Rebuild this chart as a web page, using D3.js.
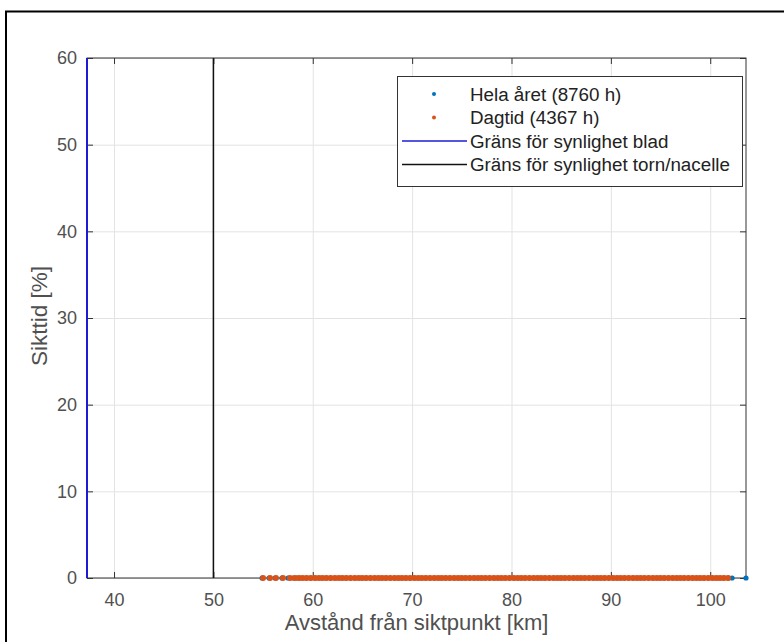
<!DOCTYPE html>
<html>
<head>
<meta charset="utf-8">
<script src="https://cdn.jsdelivr.net/npm/d3@7/dist/d3.min.js"></script>
<style>
  html, body { margin: 0; padding: 0; background: #fff; }
  svg { display: block; font-family: "Liberation Sans", Arial, Helvetica, sans-serif; }
</style>
</head>
<body>
<svg id="chart" width="784" height="642"></svg>
<script>
// ---- data ----
const xTicks = [40, 50, 60, 70, 80, 90, 100];
const yTicks = [0, 10, 20, 30, 40, 50, 60];
const xDomain = [37.28, 103.6];
const yDomain = [0, 60];
const bladLimit = 37.28;      // Gräns för synlighet blad [km]
const tornLimit = 50;         // Gräns för synlighet torn/nacelle [km]

// Hela året (8760 h): [avstånd km, sikttid %]
const helaAret = [
  [54.9,0],[55.6,0],[56.2,0],[56.9,0],[57.5,0],[58.0,0],[58.4,0],[58.8,0],[59.3,0],[59.8,0],
  [60.3,0],[60.8,0],[61.3,0],[61.8,0],[62.3,0],[62.8,0],[63.3,0],[63.8,0],[64.3,0],[64.8,0],
  [65.3,0],[65.8,0],[66.3,0],[66.8,0],[67.3,0],[67.8,0],[68.3,0],[68.8,0],[69.3,0],[69.8,0],
  [70.3,0],[70.8,0],[71.3,0],[71.8,0],[72.3,0],[72.8,0],[73.3,0],[73.8,0],[74.3,0],[74.8,0],
  [75.3,0],[75.8,0],[76.3,0],[76.8,0],[77.3,0],[77.8,0],[78.3,0],[78.8,0],[79.3,0],[79.8,0],
  [80.3,0],[80.8,0],[81.3,0],[81.8,0],[82.3,0],[82.8,0],[83.3,0],[83.8,0],[84.3,0],[84.8,0],
  [85.3,0],[85.8,0],[86.3,0],[86.8,0],[87.3,0],[87.8,0],[88.3,0],[88.8,0],[89.3,0],[89.8,0],
  [90.3,0],[90.8,0],[91.3,0],[91.8,0],[92.3,0],[92.8,0],[93.3,0],[93.8,0],[94.3,0],[94.8,0],
  [95.3,0],[95.8,0],[96.3,0],[96.8,0],[97.3,0],[97.8,0],[98.3,0],[98.8,0],[99.3,0],[99.8,0],
  [100.3,0],[100.8,0],[101.3,0],[101.8,0],[102.2,0],[103.6,0]
];
// Dagtid (4367 h): [avstånd km, sikttid %]
const dagtid = [
  [55.0,0],[55.7,0],[56.3,0],[57.0,0],[57.7,0],[58.2,0],[58.6,0],[59.0,0],[59.4,0],[59.8,0],
  [60.2,0],[60.6,0],[61.0,0],[61.4,0],[61.8,0],[62.2,0],[62.6,0],[63.0,0],[63.4,0],[63.8,0],
  [64.2,0],[64.6,0],[65.0,0],[65.4,0],[65.8,0],[66.2,0],[66.6,0],[67.0,0],[67.4,0],[67.8,0],
  [68.2,0],[68.6,0],[69.0,0],[69.4,0],[69.8,0],[70.2,0],[70.6,0],[71.0,0],[71.4,0],[71.8,0],
  [72.2,0],[72.6,0],[73.0,0],[73.4,0],[73.8,0],[74.2,0],[74.6,0],[75.0,0],[75.4,0],[75.8,0],
  [76.2,0],[76.6,0],[77.0,0],[77.4,0],[77.8,0],[78.2,0],[78.6,0],[79.0,0],[79.4,0],[79.8,0],
  [80.2,0],[80.6,0],[81.0,0],[81.4,0],[81.8,0],[82.2,0],[82.6,0],[83.0,0],[83.4,0],[83.8,0],
  [84.2,0],[84.6,0],[85.0,0],[85.4,0],[85.8,0],[86.2,0],[86.6,0],[87.0,0],[87.4,0],[87.8,0],
  [88.2,0],[88.6,0],[89.0,0],[89.4,0],[89.8,0],[90.2,0],[90.6,0],[91.0,0],[91.4,0],[91.8,0],
  [92.2,0],[92.6,0],[93.0,0],[93.4,0],[93.8,0],[94.2,0],[94.6,0],[95.0,0],[95.4,0],[95.8,0],
  [96.2,0],[96.6,0],[97.0,0],[97.4,0],[97.8,0],[98.2,0],[98.6,0],[99.0,0],[99.4,0],[99.8,0],
  [100.2,0],[100.6,0],[101.0,0],[101.4,0],[101.8,0]
];
const legendLabels = ["Hela året (8760 h)", "Dagtid (4367 h)", "Gräns för synlighet blad", "Gräns för synlighet torn/nacelle"];
const xLabel = "Avstånd från siktpunkt [km]";
const yLabel = "Sikttid [%]";

// ---- layout ----
const svg = d3.select("#chart");
const plot = { left: 87, right: 746, top: 58, bottom: 578 };
const colBlue = "#0072BD", colOrange = "#D95319", colBlad = "#1c1cd6", colTorn = "#111";
const textCol = "#505050";

// outer frame
svg.append("rect").attr("x", 6).attr("y", 11.5).attr("width", 820).attr("height", 700)
  .attr("fill", "none").attr("stroke", "#000").attr("stroke-width", 2);

const x = d3.scaleLinear().domain(xDomain).range([plot.left, plot.right]);
const y = d3.scaleLinear().domain(yDomain).range([plot.bottom, plot.top]);

const g = svg.append("g");

// grid
g.append("g").attr("transform", `translate(0,${plot.bottom})`)
  .call(d3.axisBottom(x).tickValues(xTicks).tickSize(-(plot.bottom - plot.top)).tickFormat(""))
  .call(s => { s.select(".domain").remove(); s.selectAll("line").attr("stroke", "#e3e3e3"); });
g.append("g").attr("transform", `translate(${plot.left},0)`)
  .call(d3.axisLeft(y).tickValues(yTicks).tickSize(-(plot.right - plot.left)).tickFormat(""))
  .call(s => { s.select(".domain").remove(); s.selectAll("line").attr("stroke", "#e3e3e3"); });

// box
g.append("rect").attr("x", plot.left).attr("y", plot.top)
  .attr("width", plot.right - plot.left).attr("height", plot.bottom - plot.top)
  .attr("fill", "none").attr("stroke", "#333").attr("stroke-width", 1);

// ticks (inward, all four sides)
const tl = 6;
function styleAxis(s) {
  s.select(".domain").remove();
  s.selectAll("line").attr("stroke", "#333");
  s.selectAll("text").attr("fill", textCol).attr("font-size", 18);
}
g.append("g").attr("transform", `translate(0,${plot.bottom})`)
  .call(d3.axisBottom(x).tickValues(xTicks).tickSizeInner(-tl).tickSizeOuter(0).tickPadding(15))
  .call(styleAxis);
g.append("g").attr("transform", `translate(0,${plot.top})`)
  .call(d3.axisTop(x).tickValues(xTicks).tickSizeInner(-tl).tickSizeOuter(0).tickFormat(""))
  .call(styleAxis);
g.append("g").attr("transform", `translate(${plot.left},0)`)
  .call(d3.axisLeft(y).tickValues(yTicks).tickSizeInner(-tl).tickSizeOuter(0).tickPadding(10))
  .call(styleAxis);
g.append("g").attr("transform", `translate(${plot.right},0)`)
  .call(d3.axisRight(y).tickValues(yTicks).tickSizeInner(-tl).tickSizeOuter(0).tickFormat(""))
  .call(styleAxis);

// data points
g.append("g").selectAll("circle").data(helaAret).join("circle")
  .attr("cx", d => x(d[0])).attr("cy", d => y(d[1])).attr("r", 2.6).attr("fill", colBlue);
g.append("g").selectAll("circle").data(dagtid).join("circle")
  .attr("cx", d => x(d[0])).attr("cy", d => y(d[1])).attr("r", 3).attr("fill", colOrange);

// limit lines
g.append("line").attr("x1", x(bladLimit)).attr("x2", x(bladLimit))
  .attr("y1", y(yDomain[0])).attr("y2", y(yDomain[1]))
  .attr("stroke", colBlad).attr("stroke-width", 2);
g.append("line").attr("x1", x(tornLimit)).attr("x2", x(tornLimit))
  .attr("y1", y(yDomain[0])).attr("y2", y(yDomain[1]))
  .attr("stroke", colTorn).attr("stroke-width", 1.5);

// axis labels
svg.append("text").attr("x", (plot.left + plot.right) / 2).attr("y", 630)
  .attr("text-anchor", "middle").attr("font-size", 22).attr("fill", textCol).text(xLabel);
svg.append("text").attr("transform", `translate(47,${(plot.top + plot.bottom) / 2 - 2}) rotate(-90)`)
  .attr("text-anchor", "middle").attr("font-size", 22.5).attr("fill", textCol).text(yLabel);

// legend
const lg = svg.append("g");
const lgX = 397, lgY = 76, lgW = 345, lgH = 110, rowH = 23.5, row0 = 94;
lg.append("rect").attr("x", lgX + 0.5).attr("y", lgY + 0.5).attr("width", lgW).attr("height", lgH)
  .attr("fill", "#fff").attr("stroke", "#333").attr("stroke-width", 1);
const items = [
  { type: "dot", color: colBlue },
  { type: "dot", color: colOrange },
  { type: "line", color: colBlad },
  { type: "line", color: colTorn }
];
items.forEach((it, i) => {
  const cy = row0 + i * rowH;
  if (it.type === "dot") {
    lg.append("circle").attr("cx", 434).attr("cy", cy).attr("r", 2).attr("fill", it.color);
  } else {
    lg.append("line").attr("x1", 402).attr("x2", 467).attr("y1", cy).attr("y2", cy)
      .attr("stroke", it.color).attr("stroke-width", 1.3);
  }
  lg.append("text").attr("x", 470).attr("y", cy).attr("dy", "0.35em")
    .attr("font-size", 18.8).attr("fill", "#222").text(legendLabels[i]);
});
</script>
</body>
</html>
